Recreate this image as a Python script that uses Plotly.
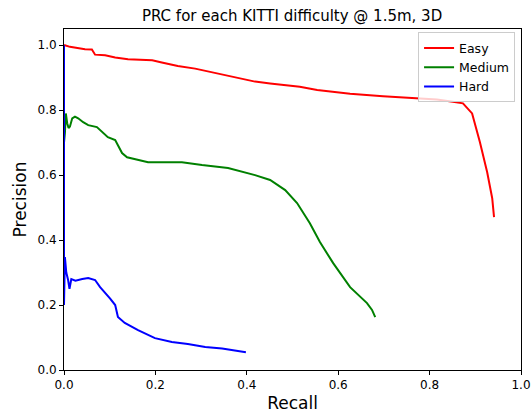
import plotly.graph_objects as go

easy_recall = [0.0, 0.002, 0.013, 0.024, 0.046, 0.061, 0.068, 0.09, 0.112, 0.14, 0.193, 0.214, 0.249,
               0.287, 0.346, 0.39, 0.418, 0.451, 0.516, 0.554, 0.626, 0.698, 0.772, 0.816, 0.851,
               0.873, 0.893, 0.910, 0.926, 0.937, 0.941]
easy_precision = [1.0, 1.0, 0.995, 0.992, 0.988, 0.987, 0.971, 0.969, 0.962, 0.957, 0.954, 0.947, 0.936,
                  0.928, 0.910, 0.897, 0.888, 0.882, 0.872, 0.862, 0.851, 0.843, 0.838, 0.833, 0.826,
                  0.821, 0.790, 0.702, 0.609, 0.529, 0.471]

medium_recall = [0.0, 0.0, 0.002, 0.004, 0.007, 0.010, 0.013, 0.018, 0.024, 0.031, 0.042, 0.053, 0.072,
                 0.096, 0.112, 0.127, 0.138, 0.184, 0.258, 0.302, 0.359, 0.418, 0.451, 0.484, 0.510,
                 0.538, 0.560, 0.589, 0.626, 0.663, 0.674, 0.681]
medium_precision = [0.79, 0.70, 0.73, 0.79, 0.76, 0.745, 0.75, 0.775, 0.78, 0.775, 0.763, 0.754, 0.748,
                    0.717, 0.708, 0.668, 0.655, 0.640, 0.640, 0.631, 0.622, 0.600, 0.585, 0.554, 0.514,
                    0.452, 0.394, 0.329, 0.255, 0.206, 0.185, 0.163]

hard_recall = [0.0, 0.0, 0.002, 0.005, 0.009, 0.012, 0.016, 0.025, 0.040, 0.053, 0.068, 0.079, 0.101,
               0.112, 0.118, 0.133, 0.162, 0.199, 0.236, 0.271, 0.309, 0.346, 0.398]
hard_precision = [1.0, 0.20, 0.348, 0.30, 0.277, 0.25, 0.28, 0.275, 0.280, 0.283, 0.277, 0.255, 0.220,
                  0.200, 0.163, 0.145, 0.123, 0.098, 0.086, 0.080, 0.071, 0.066, 0.055]

x_ticks = [0.0, 0.2, 0.4, 0.6, 0.8, 1.0]
y_ticks = [0.0, 0.2, 0.4, 0.6, 0.8, 1.0]
tick_text = ["0.0", "0.2", "0.4", "0.6", "0.8", "1.0"]

fig = go.Figure()
fig.add_trace(go.Scatter(x=easy_recall, y=easy_precision, mode="lines", name="Easy",
                         line=dict(color="#ff0000", width=2)))
fig.add_trace(go.Scatter(x=medium_recall, y=medium_precision, mode="lines", name="Medium",
                         line=dict(color="#008000", width=2)))
fig.add_trace(go.Scatter(x=hard_recall, y=hard_precision, mode="lines", name="Hard",
                         line=dict(color="#0000ff", width=2)))

axis_common = dict(showgrid=False, zeroline=False, showline=True, linecolor="black", linewidth=1,
                   mirror=True, ticks="outside", ticklen=4, tickcolor="black", automargin=False,
                   tickfont=dict(size=12, color="black"))

fig.update_layout(
    width=532, height=415,
    margin=dict(l=64, r=11, t=29, b=45, autoexpand=False),
    paper_bgcolor="white", plot_bgcolor="white",
    font=dict(family="DejaVu Sans", color="black"),
    title=dict(text="PRC for each KITTI difficulty @ 1.5m, 3D", x=0.549, xanchor="center",
               y=0.963, yanchor="middle", font=dict(size=15), automargin=False),
    xaxis=dict(range=[0, 1], tickvals=x_ticks, ticktext=tick_text,
               title=dict(text="Recall", font=dict(size=17), standoff=5), **axis_common),
    yaxis=dict(range=[0, 1.05], tickvals=y_ticks, ticktext=tick_text,
               title=dict(text="Precision", font=dict(size=17), standoff=6), **axis_common),
    legend=dict(x=0.987, y=0.99, xanchor="right", yanchor="top", bgcolor="rgba(255,255,255,0.8)",
                bordercolor="#cccccc", borderwidth=1, font=dict(size=12.5), tracegroupgap=0),
    showlegend=True,
)

fig.write_html("out.html", config={"displayModeBar": False},
               post_script="document.body.style.margin='0';document.body.style.padding='0';")
